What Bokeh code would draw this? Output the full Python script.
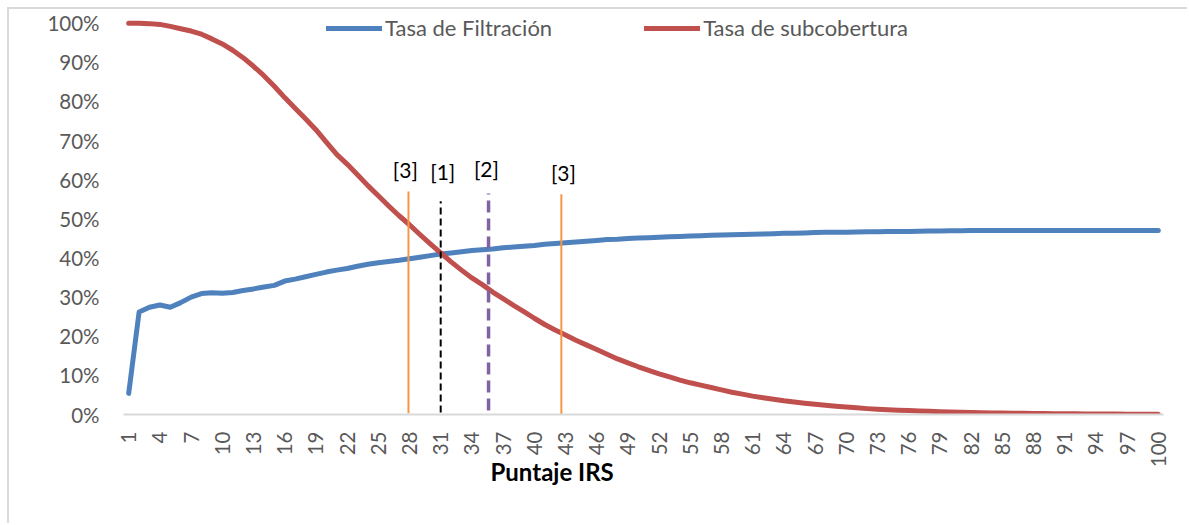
import math
from bokeh.plotting import figure
from bokeh.models import (Range1d, FixedTicker, CustomJSTickFormatter, Legend,
                          LegendItem, Title)
from bokeh.core.properties import value
from bokeh.embed import file_html
from bokeh.resources import INLINE

FONT = "Lato"

# ---------------- data ----------------
puntaje = list(range(1, 101))

tasa_filtracion = [
    5.4, 26.2, 27.4, 28.0, 27.4, 28.6, 30.0, 30.9, 31.1, 31.0,
    31.2, 31.7, 32.1, 32.6, 33.0, 34.1, 34.6, 35.2, 35.8, 36.4,
    36.9, 37.3, 37.9, 38.4, 38.8, 39.1, 39.4, 39.8, 40.2, 40.6,
    41.0, 41.3, 41.6, 41.9, 42.1, 42.3, 42.6, 42.8, 43.0, 43.2,
    43.5, 43.7, 43.9, 44.1, 44.3, 44.5, 44.7, 44.8, 45.0, 45.1,
    45.2, 45.3, 45.4, 45.5, 45.6, 45.7, 45.8, 45.9, 45.95, 46.0,
    46.1, 46.15, 46.2, 46.3, 46.35, 46.4, 46.5, 46.55, 46.6, 46.6,
    46.65, 46.7, 46.7, 46.75, 46.8, 46.8, 46.85, 46.9, 46.9, 46.95,
    46.95, 47.0, 47.0, 47.0, 47.0, 47.0, 47.0, 47.0, 47.0, 47.0,
    47.0, 47.0, 47.0, 47.0, 47.0, 47.0, 47.0, 47.0, 47.0, 47.0,
]

tasa_subcobertura = [
    100.0, 100.0, 99.9, 99.7, 99.2, 98.6, 98.0, 97.2, 96.0, 94.7,
    93.1, 91.2, 89.0, 86.6, 83.9, 81.0, 78.3, 75.6, 72.8, 69.6,
    66.5, 64.0, 61.3, 58.5, 55.9, 53.3, 50.8, 48.5, 46.0, 43.6,
    41.3, 39.0, 36.9, 34.9, 33.2, 31.3, 29.6, 27.9, 26.3, 24.6,
    23.0, 21.6, 20.3, 19.0, 17.8, 16.6, 15.4, 14.2, 13.2, 12.2,
    11.3, 10.4, 9.6, 8.8, 8.1, 7.5, 6.9, 6.3, 5.7, 5.2,
    4.7, 4.3, 3.9, 3.5, 3.2, 2.9, 2.6, 2.35, 2.1, 1.9,
    1.7, 1.5, 1.35, 1.2, 1.1, 1.0, 0.9, 0.8, 0.72, 0.65,
    0.58, 0.52, 0.46, 0.41, 0.37, 0.33, 0.3, 0.27, 0.24, 0.21,
    0.19, 0.17, 0.15, 0.13, 0.11, 0.1, 0.09, 0.08, 0.07, 0.06,
]

x_tick_values = list(range(1, 101, 3))
y_tick_values = list(range(0, 101, 10))

# reference markers (vertical lines with labels)
orange_x = [27.9, 42.6]
orange_top = [57.0, 56.3]
black_x = [31.0]
black_top = [54.5]
purple_x = [35.6]
purple_top = [56.5]
marker_labels = ["[3]", "[1]", "[2]", "[3]"]
marker_label_x = [27.6, 31.2, 35.4, 42.8]
marker_label_y = [62.6, 62.1, 62.9, 61.8]

axis_title = "Puntaje IRS"
series_names = ["Tasa de Filtración", "Tasa de subcobertura"]

# ---------------- figure ----------------
p = figure(frame_width=1040, frame_height=403,
           x_range=Range1d(0.5, 100.5), y_range=Range1d(0, 103),
           output_backend="svg", toolbar_location=None,
           min_border_left=114, min_border_right=24,
           min_border_top=2, min_border_bottom=109,
           background_fill_color="white", border_fill_color="white",
           styles={"margin-left": "7px", "margin-top": "7px",
                   "border-top": "2px solid #D9D9D9",
                   "border-left": "2px solid #D9D9D9"})

p.outline_line_color = None
p.xgrid.visible = False
p.ygrid.visible = False

r_blue = p.line(puntaje, tasa_filtracion, line_color="#4F81BD", line_width=5,
                line_cap="round", line_join="round")
r_red = p.line(puntaje, tasa_subcobertura, line_color="#C0504D", line_width=5,
               line_cap="round", line_join="round")

p.segment(x0=orange_x, y0=[0.3, 0.0], x1=orange_x, y1=orange_top,
          line_color="#F79646", line_width=2)
p.segment(x0=black_x, y0=[0.5], x1=black_x, y1=black_top,
          line_color="black", line_width=2, line_dash="7 4")
p.segment(x0=purple_x, y0=[1.0], x1=purple_x, y1=purple_top,
          line_color="#8064A2", line_width=3.5, line_dash="12 6")

p.text(x=marker_label_x, y=marker_label_y, text=marker_labels,
       text_font=value(FONT), text_font_size="21px", text_color="black",
       text_align="center", text_baseline="middle")

# axes
xa = p.xaxis[0]
xa.ticker = FixedTicker(ticks=x_tick_values)
xa.major_label_orientation = math.pi / 2
xa.axis_line_color = "#D9D9D9"
xa.axis_line_width = 2
xa.major_tick_line_color = None
xa.minor_tick_line_color = None
xa.major_label_standoff = 11
xa.major_label_text_font = FONT
xa.major_label_text_font_size = "20.5px"
xa.major_label_text_color = "#595959"

ya = p.yaxis[0]
ya.ticker = FixedTicker(ticks=y_tick_values)
ya.formatter = CustomJSTickFormatter(code="return tick.toFixed(0) + '%';")
ya.axis_line_color = None
ya.major_tick_line_color = None
ya.minor_tick_line_color = None
ya.major_label_standoff = 18
ya.major_label_text_font = FONT
ya.major_label_text_font_size = "20.5px"
ya.major_label_text_color = "#595959"

title = Title(text=axis_title, align="left", offset=367, standoff=-31,
              text_font=FONT, text_font_style="bold", text_font_size="24px",
              text_color="black")
p.add_layout(title, "below")

legend = Legend(items=[LegendItem(label=series_names[0], renderers=[r_blue]),
                       LegendItem(label=series_names[1], renderers=[r_red])],
                orientation="horizontal", location=(203, 373),
                glyph_width=56, glyph_height=20, label_standoff=3,
                spacing=92, padding=0, margin=0,
                border_line_color=None, background_fill_alpha=0,
                label_text_font=FONT, label_text_font_size="22px",
                label_text_color="#595959")
p.add_layout(legend)

with open("out.html", "w", encoding="utf-8") as f:
    f.write(file_html(p, INLINE))
